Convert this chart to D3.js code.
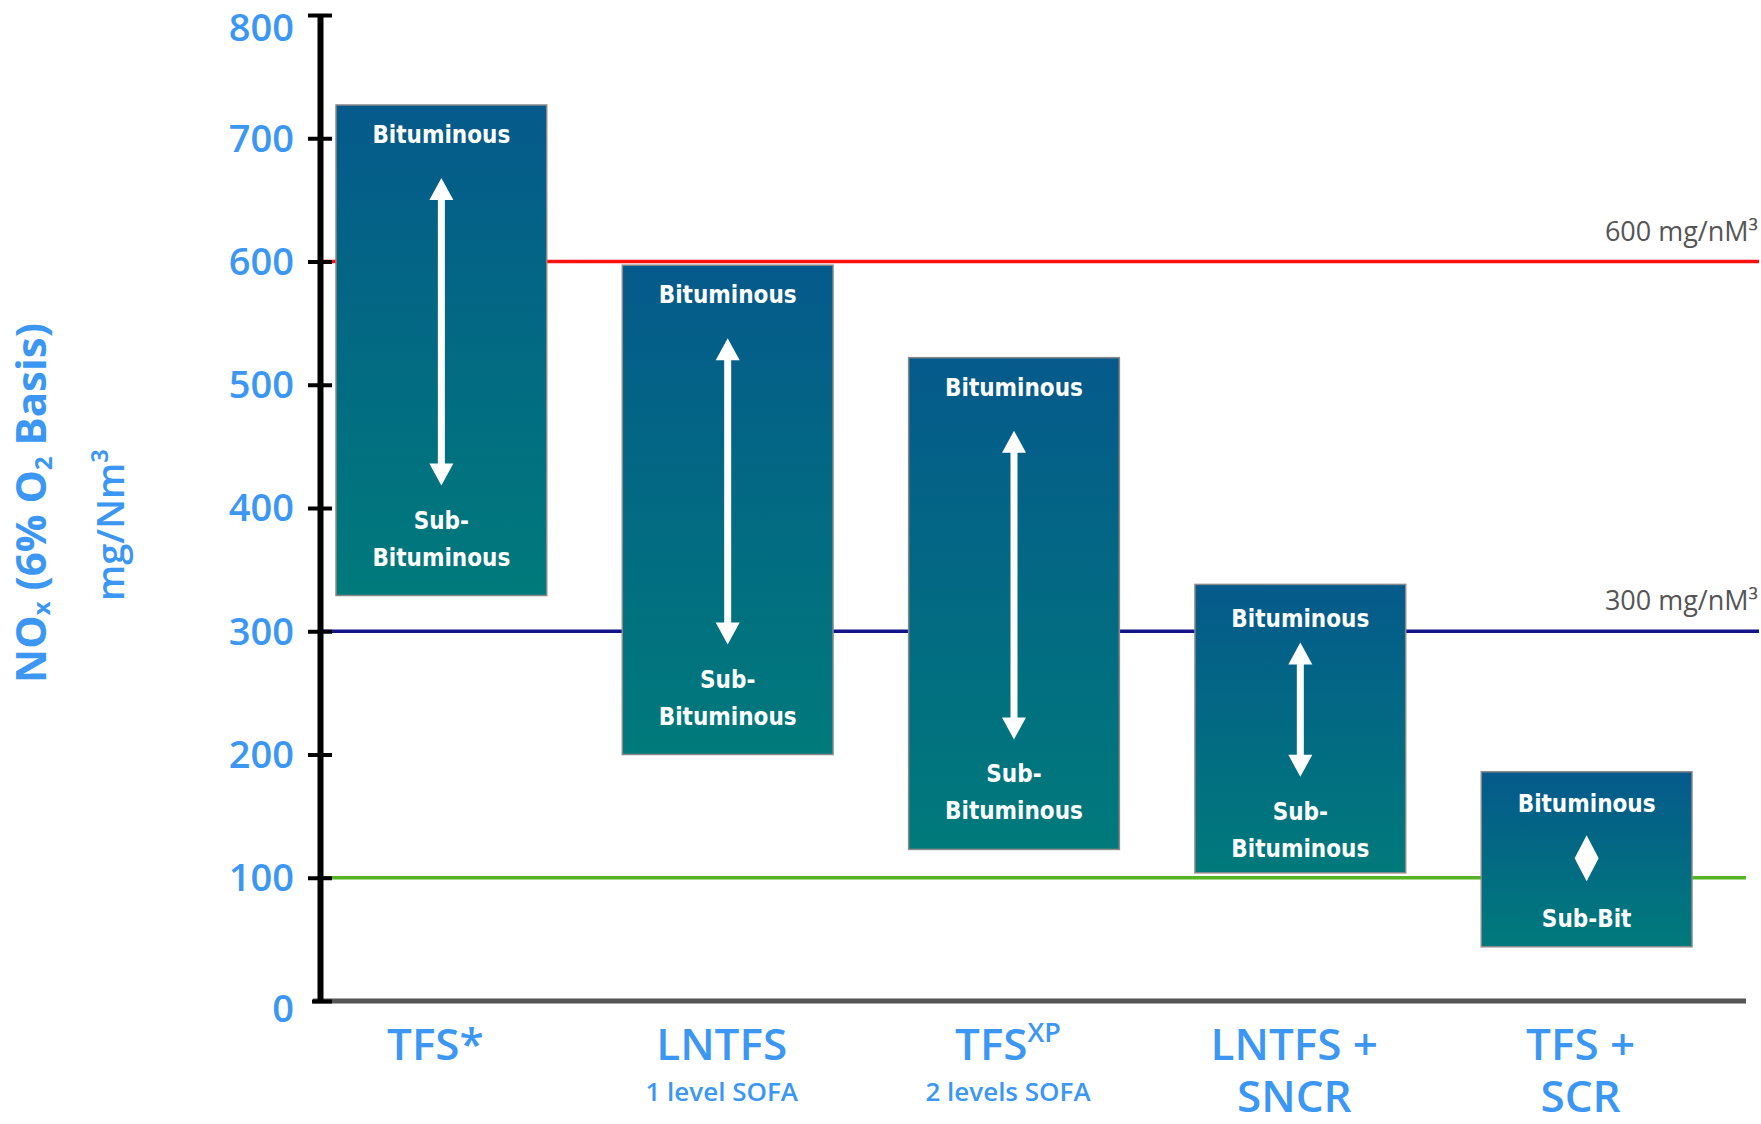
<!DOCTYPE html>
<html>
<head>
<meta charset="utf-8">
<script src="https://cdn.jsdelivr.net/npm/d3@7"></script>
<style>
  body { margin: 0; background: #fff; }
  svg { display: block; }
</style>
</head>
<body>
<svg id="chart" width="1761" height="1124"></svg>
<script>
// values
const categories = ["TFS*", "LNTFS", "TFS", "LNTFS +", "TFS +"];
const catSuper = ["", "", "XP", "", ""];
const catSecond = ["", "", "", "SNCR", "SCR"];
const catSmall = ["", "1 level SOFA", "2 levels SOFA", "", ""];
const highNOx = [727, 597, 522, 338, 186];   // bituminous end
const lowNOx = [329, 200, 123, 104, 44];     // sub-bituminous end
const limitValues = [600, 300, 100];
const limitLabels = ["600 mg/nM³", "300 mg/nM³", ""];
const limitColors = ["#ff1010", "#14148a", "#55b423"];
const yTicks = [0, 100, 200, 300, 400, 500, 600, 700, 800];

const svg = d3.select("#chart");
const blue = "#3b97f3";

const y = d3.scaleLinear().domain([0, 800]).range([1001, 15]);
const x = d3.scaleBand()
  .domain(categories)
  .range([336, 1692])
  .paddingInner(0.264)
  .paddingOuter(0);

const axisX = 320;

const defs = svg.append("defs");
const grad = defs.append("linearGradient")
  .attr("id", "boxGrad")
  .attr("x1", 0).attr("y1", 0).attr("x2", 0).attr("y2", 1);
grad.append("stop").attr("offset", "0%").attr("stop-color", "#055a8b");
grad.append("stop").attr("offset", "100%").attr("stop-color", "#007a7b");

// limit lines
svg.selectAll(".limit")
  .data(limitValues)
  .join("line")
    .attr("class", "limit")
    .attr("x1", axisX)
    .attr("x2", (d, i) => i == 2 ? 1746 : 1759)
    .attr("y1", d => y(d))
    .attr("y2", d => y(d))
    .attr("stroke", (d, i) => limitColors[i])
    .attr("stroke-width", 3.5);

svg.selectAll(".limitLabel")
  .data(limitValues)
  .join("text")
    .attr("class", "limitLabel")
    .attr("x", 1758)
    .attr("y", d => y(d) - 21)
    .attr("text-anchor", "end")
    .style("font-family", "Open Sans")
    .style("font-size", "27px")
    .style("fill", "#555")
    .text((d, i) => limitLabels[i]);

// boxes
const boxes = svg.selectAll(".box")
  .data(categories)
  .join("g")
    .attr("class", "box");

boxes.append("rect")
  .attr("x", d => x(d))
  .attr("y", (d, i) => y(highNOx[i]))
  .attr("width", x.bandwidth())
  .attr("height", (d, i) => y(lowNOx[i]) - y(highNOx[i]))
  .attr("fill", "url(#boxGrad)")
  .attr("stroke", "#8a8a8a")
  .attr("stroke-width", 1.5);

const boxFont = "'DejaVu Sans Condensed', 'DejaVu Sans', sans-serif";

boxes.each(function(d, i) {
  const g = d3.select(this);
  const cx = x(d) + x.bandwidth() / 2;
  const top = y(highNOx[i]);
  const bottom = y(lowNOx[i]);
  const h = bottom - top;
  const txt = (t, yy) => g.append("text")
    .attr("x", cx)
    .attr("y", yy)
    .attr("text-anchor", "middle")
    .attr("dominant-baseline", "central")
    .style("font-family", boxFont)
    .style("font-weight", "bold")
    .style("font-size", "24px")
    .style("fill", "#fff")
    .text(t);

  if (h < 220) {
    // short box: diamond only
    const t1 = top + 32, t2 = bottom - 28;
    txt("Bituminous", t1);
    txt("Sub-Bit", t2);
    const my = (t1 + t2) / 2 - 3;
    g.append("path")
      .attr("d", `M${cx},${my - 23} L${cx + 12},${my} L${cx},${my + 23} L${cx - 12},${my} Z`)
      .attr("fill", "#fff");
    return;
  }

  const compact = h < 350;
  const t1 = top + (compact ? 35 : 30);
  const b2 = bottom - (compact ? 24 : 38);
  const b1 = b2 - 37;
  txt("Bituminous", t1);
  txt("Sub-", b1);
  txt("Bituminous", b2);

  const a1 = t1 + (compact ? 23 : 43);
  const a2 = b1 - 35;
  const hw = 12, hl = 22, sw = 3.5;
  g.append("path")
    .attr("d", [
      `M${cx},${a1}`,
      `L${cx + hw},${a1 + hl}`, `L${cx + sw},${a1 + hl}`,
      `L${cx + sw},${a2 - hl}`, `L${cx + hw},${a2 - hl}`,
      `L${cx},${a2}`,
      `L${cx - hw},${a2 - hl}`, `L${cx - sw},${a2 - hl}`,
      `L${cx - sw},${a1 + hl}`, `L${cx - hw},${a1 + hl}`, "Z"
    ].join(" "))
    .attr("fill", "#fff");
});

// x axis baseline
svg.append("line")
  .attr("x1", 313).attr("x2", 1746)
  .attr("y1", y(0)).attr("y2", y(0))
  .attr("stroke", "#555")
  .attr("stroke-width", 5);

// y axis
const yAxis = svg.append("g")
  .attr("transform", `translate(${axisX},0)`)
  .call(d3.axisLeft(y).tickValues(yTicks).tickSize(12).tickSizeOuter(0).tickPadding(14));

yAxis.select(".domain")
  .attr("stroke", "#000")
  .attr("stroke-width", 6);
yAxis.selectAll(".tick line")
  .attr("x1", 12)
  .attr("x2", d => d == 0 ? -8 : -12)
  .attr("stroke", "#000")
  .attr("stroke-width", 4);
yAxis.selectAll(".tick text")
  .style("font-family", "Open Sans")
  .style("font-weight", 600)
  .style("font-size", "38px")
  .style("fill", blue)
  .attr("dy", d => d == 800 ? "0.68em" : d == 0 ? "0.55em" : "0.34em");

// category labels (one text per category, lines as tspans)
const catLab = svg.selectAll(".cat")
  .data(categories)
  .join("text")
    .attr("class", "cat")
    .attr("text-anchor", "middle")
    .attr("y", 1060)
    .style("font-family", "Open Sans")
    .style("font-weight", 600)
    .style("font-size", "44px")
    .style("fill", blue);

catLab.each(function(d, i) {
  const t = d3.select(this);
  const cx = x(d) + x.bandwidth() / 2 - 6;
  t.append("tspan").attr("x", cx).text(d);
  if (catSuper[i]) {
    t.append("tspan")
      .attr("baseline-shift", "super")
      .style("font-size", "27px")
      .text(catSuper[i]);
  }
  if (catSecond[i]) {
    t.append("tspan").attr("x", cx).attr("y", 1112).text(catSecond[i]);
  }
  if (catSmall[i]) {
    t.append("tspan").attr("x", cx).attr("y", 1101)
      .style("font-size", "26px")
      .text(catSmall[i]);
  }
});

// y axis title
const t1 = svg.append("text")
  .attr("transform", "translate(46,503) rotate(-90)")
  .attr("text-anchor", "middle")
  .style("font-family", "Open Sans")
  .style("font-weight", 700)
  .style("font-size", "42px")
  .style("fill", blue);
t1.append("tspan").text("NO");
t1.append("tspan").attr("baseline-shift", "-4").style("font-size", "24px").text("x");
t1.append("tspan").text(" (6% O");
t1.append("tspan").attr("baseline-shift", "-6").style("font-size", "24px").text("2");
t1.append("tspan").text(" Basis)");

svg.append("text")
  .attr("transform", "translate(124,525) rotate(-90)")
  .attr("text-anchor", "middle")
  .style("font-family", "Open Sans")
  .style("font-weight", 600)
  .style("font-size", "38px")
  .style("fill", blue)
  .text("mg/Nm³");
</script>
</body>
</html>
